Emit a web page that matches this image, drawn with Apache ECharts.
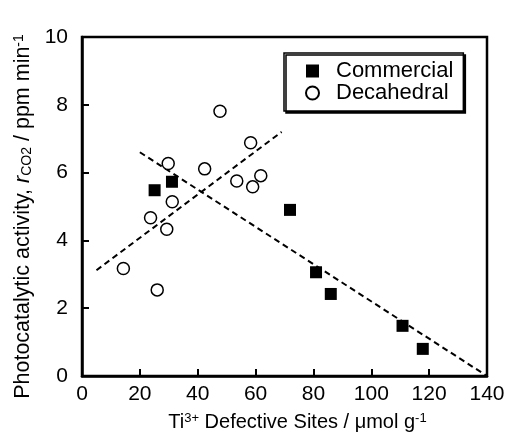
<!DOCTYPE html>
<html>
<head>
<meta charset="utf-8">
<script src="https://cdn.jsdelivr.net/npm/echarts@6/dist/echarts.min.js"></script>
<style>html,body{margin:0;padding:0;background:#fff}#c{width:506px;height:436px}</style>
</head>
<body>
<div id="c"></div>
<script>
// Commercial TiO2 (filled squares): [Ti3+ sites, rate]
const commercialX = [25.1, 31.1, 71.9, 80.9, 86.0, 110.8, 117.8];
const commercialY = [5.48, 5.73, 4.90, 3.06, 2.42, 1.48, 0.80];
// Decahedral TiO2 (open circles)
const decahedralX = [14.3, 26.0, 23.7, 29.3, 31.2, 29.8, 42.4, 47.7, 53.5, 59.0, 61.8, 58.3];
const decahedralY = [3.17, 2.54, 4.67, 4.33, 5.14, 6.27, 6.11, 7.81, 5.75, 5.58, 5.91, 6.88];
// Dashed trend lines (end points)
const commercialFitX = [20, 140];
const commercialFitY = [6.6, 0.0];
const decahedralFitX = [5, 69];
const decahedralFitY = [3.12, 7.2];
// Axis ticks
const xTicks = [0, 20, 40, 60, 80, 100, 120, 140];
const yTicks = [0, 2, 4, 6, 8, 10];

const zip = (a, b) => a.map((v, i) => [v, b[i]]);
const font = '"Liberation Sans", Arial, Helvetica, sans-serif';

const chart = echarts.init(document.getElementById('c'), null, {renderer: 'canvas'});
chart.setOption({
  animation: false,
  backgroundColor: '#fff',
  textStyle: {fontFamily: font, color: '#000'},
  grid: {
    left: 82, top: 37, right: 19, bottom: 60,
    show: true, borderColor: '#000', borderWidth: 2.5,
    containLabel: false, outerBoundsMode: 'none'
  },
  legend: {
    data: ['Commercial', 'Decahedral'],
    orient: 'vertical',
    left: 284, top: 53,
    padding: [7, 10, 7, 21],
    itemGap: 0,
    itemWidth: 13, itemHeight: 13,
    backgroundColor: '#fff',
    borderColor: '#000', borderWidth: 1.5, borderRadius: 0,
    shadowColor: '#000', shadowBlur: 0, shadowOffsetX: 2, shadowOffsetY: 2,
    textStyle: {fontFamily: font, fontSize: 22, color: '#000', padding: [0, 0, 0, 12], lineHeight: 22}
  },
  xAxis: {
    type: 'value', min: xTicks[0], max: xTicks[xTicks.length - 1], interval: 20,
    name: 'Ti{sup|3+} Defective Sites / \u03bcmol g{sup|-1}',
    nameLocation: 'middle', nameGap: 36,
    nameTextStyle: {
      fontFamily: font, fontSize: 20, color: '#000', padding: [0, 0, 0, 26],
      rich: {sup: {fontFamily: font, fontSize: 13, verticalAlign: 'top', color: '#000', padding: [0, 0, 8, 0]}}
    },
    axisLine: {show: true, lineStyle: {color: '#000', width: 2.5}},
    axisTick: {show: true, inside: true, length: 7, lineStyle: {color: '#000', width: 2}},
    axisLabel: {fontFamily: font, fontSize: 21, color: '#000', margin: 8},
    splitLine: {show: false}
  },
  yAxis: {
    type: 'value', min: yTicks[0], max: yTicks[yTicks.length - 1], interval: 2,
    name: 'Photocatalytic activity, {i|r}{sub|CO2} / ppm min{sup|-1}',
    nameLocation: 'middle', nameGap: 48, nameRotate: 90,
    nameTextStyle: {
      fontFamily: font, fontSize: 21.5, color: '#000', padding: [0, 20, 0, 0],
      rich: {
        i: {fontFamily: font, fontSize: 21.5, fontStyle: 'italic', color: '#000'},
        sub: {fontFamily: font, fontSize: 14, color: '#000', verticalAlign: 'bottom'},
        sup: {fontFamily: font, fontSize: 14, color: '#000', verticalAlign: 'top'}
      }
    },
    axisLine: {show: true, lineStyle: {color: '#000', width: 2.5}},
    axisTick: {show: true, inside: true, length: 7, lineStyle: {color: '#000', width: 2}},
    axisLabel: {fontFamily: font, fontSize: 21, color: '#000', margin: 14},
    splitLine: {show: false}
  },
  series: [
    {
      name: 'Commercial fit', type: 'line', data: zip(commercialFitX, commercialFitY),
      symbol: 'none', silent: true, z: 1,
      lineStyle: {color: '#000', width: 2, type: [6, 4]}
    },
    {
      name: 'Decahedral fit', type: 'line', data: zip(decahedralFitX, decahedralFitY),
      symbol: 'none', silent: true, z: 1,
      lineStyle: {color: '#000', width: 2, type: [6, 4]}
    },
    {
      name: 'Commercial', type: 'scatter', data: zip(commercialX, commercialY),
      symbol: 'rect', symbolSize: 12, z: 3,
      itemStyle: {color: '#000', borderColor: '#000', borderWidth: 0, opacity: 1}
    },
    {
      name: 'Decahedral', type: 'scatter', data: zip(decahedralX, decahedralY),
      symbol: 'circle', symbolSize: 12, z: 3,
      itemStyle: {color: '#fff', borderColor: '#000', borderWidth: 1.5, opacity: 1}
    }
  ]
});
</script>
</body>
</html>
